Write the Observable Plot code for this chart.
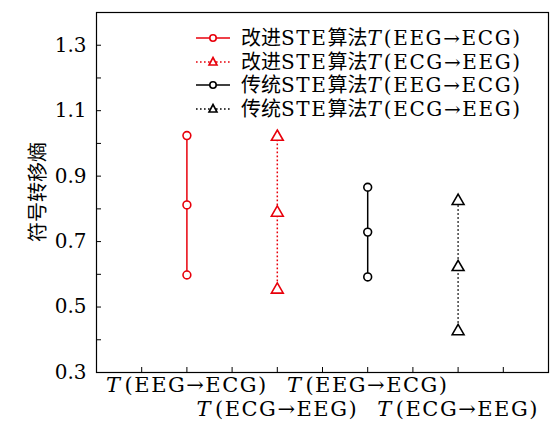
<!DOCTYPE html>
<html><head><meta charset="utf-8">
<script src="https://cdn.jsdelivr.net/npm/d3@7"></script>
<script src="https://cdn.jsdelivr.net/npm/@observablehq/plot@0.6"></script>
<style>
body{margin:0;background:#fff;}
#wrap{position:relative;width:555px;height:428px;}
#legend{position:absolute;left:195px;top:26px;font-family:"DejaVu Serif","Noto Sans CJK SC",serif;font-size:20px;color:#000;}
#legend .row{display:flex;align-items:center;height:23.7px;white-space:nowrap;line-height:1;}
#legend svg{margin-right:10px;flex:none;}
#legend .lat{letter-spacing:1.6px;}
#chart svg text{font-family:"DejaVu Serif",serif;}
</style>
</head><body>
<div id="wrap"><div id="chart"></div><div id="legend"></div></div>
<script>
// Data
const seriesNames = ["改进STE算法 T(EEG→ECG)", "改进STE算法 T(ECG→EEG)", "传统STE算法 T(EEG→ECG)", "传统STE算法 T(ECG→EEG)"];
const seriesX = [2, 4, 6, 8];
const seriesLow = [0.598, 0.553, 0.592, 0.426];
const seriesMid = [0.812, 0.788, 0.729, 0.622];
const seriesHigh = [1.024, 1.020, 0.866, 0.824];
const seriesColor = ["#e8000b", "#e8000b", "#000000", "#000000"];
const seriesSymbol = ["circle", "triangle", "circle", "triangle"];
const seriesDash = [null, "1.6,2.4", null, "1.6,2.4"];
const xTickLabels = ["T(EEG→ECG)", "T(ECG→EEG)", "T(EEG→ECG)", "T(ECG→EEG)"];
const yMinorTicks = [0.3,0.4,0.5,0.6,0.7,0.8,0.9,1.0,1.1,1.2,1.3];
const yLabelTicks = [0.3,0.5,0.7,0.9,1.1,1.3];
const xMinorTicks = [1,2,3,4,5,6,7,8,9];
const yLabel = "符号转移熵";

const pts = [];
seriesX.forEach((x,i)=>{
  [seriesLow[i], seriesMid[i], seriesHigh[i]].forEach(v=>pts.push({x, y:v, s:i}));
});
const segs = seriesX.map((x,i)=>({x, lo:seriesLow[i], hi:seriesHigh[i], s:i}));

const font = '"DejaVu Serif", serif';
const marks = [
  Plot.frame({stroke:"#000", strokeWidth:1.2}),
  Plot.axisY({ticks:yMinorTicks, tickSize:-5, tickFormat:()=>"", strokeWidth:1}),
  Plot.axisY({ticks:yLabelTicks, tickSize:0, tickPadding:10, tickFormat:d=>d.toFixed(1), fontSize:20, fontFamily:font, label:null}),
  Plot.axisX({ticks:xMinorTicks, tickSize:-5, tickFormat:()=>"", strokeWidth:1, label:null}),
  Plot.axisX({ticks:[2,6], tickSize:0, tickPadding:5, tickFormat:d=>xTickLabels[seriesX.indexOf(d)], fontSize:21, fontFamily:font, label:null, className:"xl"}),
  Plot.axisX({ticks:[4,8], tickSize:0, tickPadding:29, tickFormat:d=>xTickLabels[seriesX.indexOf(d)], fontSize:21, fontFamily:font, label:null, className:"xl"}),
];
segs.forEach(s=>{
  marks.push(Plot.ruleX([s], {x:"x", y1:"lo", y2:"hi", stroke:seriesColor[s.s], strokeWidth:1.5, strokeDasharray:seriesDash[s.s]}));
});
seriesX.forEach((x,i)=>{
  marks.push(Plot.dot(pts.filter(p=>p.s===i), {x:"x", y:"y", symbol:seriesSymbol[i], r:seriesSymbol[i]==="circle"?3.9:4.4, stroke:seriesColor[i], strokeWidth:1.6, fill:"white"}));
});

const chart = Plot.plot({
  width:555, height:428,
  marginLeft:96, marginRight:7, marginTop:12, marginBottom:56,
  x:{domain:[0,10], axis:null},
  y:{domain:[0.3,1.4], axis:null},
  style:{background:"white", color:"#000", fontFamily:font},
  marks
});
document.getElementById("chart").appendChild(chart);

// italic T in tick labels
d3.select(chart).selectAll("g.xl text").each(function(){
  const t = this.textContent;
  if (t.startsWith("T")) {
    const el = d3.select(this);
    el.text("").attr("letter-spacing","1.5px");
    el.append("tspan").attr("font-style","italic").text("T");
    el.append("tspan").attr("dx",3).text(t.slice(1));
  }
});
// y-axis label
d3.select(chart).append("text")
  .attr("transform","translate(38,192) rotate(-90)")
  .attr("text-anchor","middle")
  .attr("dy","0.35em")
  .style("font-family",'"Noto Sans CJK SC", sans-serif')
  .attr("font-size",20)
  .text(yLabel);

// Legend
const leg = d3.select("#legend");
seriesNames.forEach((name,i)=>{
  const row = leg.append("div").attr("class","row");
  const sv = row.append("svg").attr("width",36).attr("height",14);
  sv.append("line").attr("x1",1).attr("x2",35).attr("y1",7).attr("y2",7)
    .attr("stroke",seriesColor[i]).attr("stroke-width",1.5).attr("stroke-dasharray",seriesDash[i]);
  if (seriesSymbol[i]==="circle") sv.append("circle").attr("cx",18).attr("cy",7).attr("r",3.2).attr("fill","white").attr("stroke",seriesColor[i]).attr("stroke-width",1.6);
  else sv.append("path").attr("d","M18,2.5L22,10L14,10Z").attr("fill","white").attr("stroke",seriesColor[i]).attr("stroke-width",1.6);
  const [cn, rest] = name.split(" ");
  const parts = cn.split("STE");
  const label = row.append("span");
  label.html(parts[0] + '<span class="lat">STE</span>' + parts[1] +
    '<i style="margin-right:3px">' + rest[0] + '</i><span class="lat">' + rest.slice(1) + '</span>');
});
</script>
</body></html>
